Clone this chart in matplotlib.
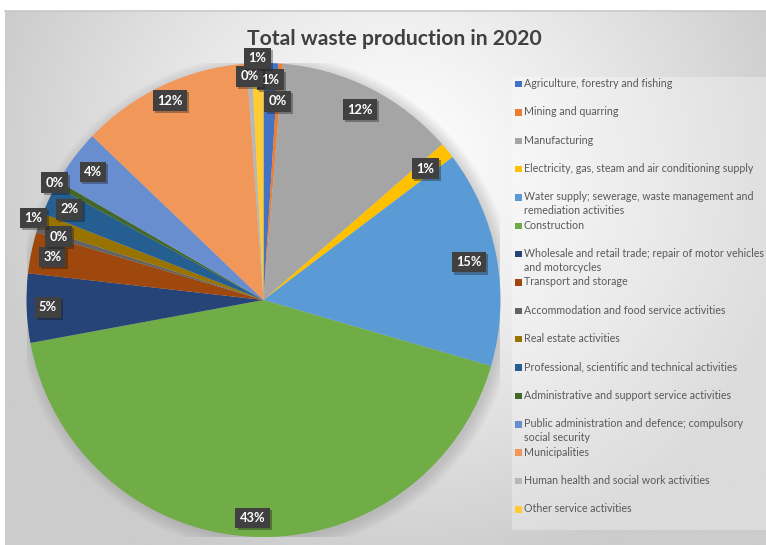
import numpy as np
import matplotlib
matplotlib.use("Agg")
import matplotlib.pyplot as plt
from matplotlib import patheffects
from matplotlib.patches import Rectangle, Circle

# ---------------- data ----------------
categories = [
    "Agriculture, forestry and fishing",
    "Mining and quarring",
    "Manufacturing",
    "Electricity, gas, steam and air conditioning supply",
    "Water supply; sewerage, waste management and\nremediation activities",
    "Construction",
    "Wholesale and retail trade; repair of motor vehicles\nand motorcycles",
    "Transport and storage",
    "Accommodation and food service activities",
    "Real estate activities",
    "Professional, scientific and technical activities",
    "Administrative and support service activities",
    "Public administration and defence; compulsory\nsocial security",
    "Municipalities",
    "Human health and social work activities",
    "Other service activities",
]
shares = [1.0, 0.3, 12.3, 1.1, 14.8, 42.6, 4.7, 2.8, 0.35, 1.0, 2.0, 0.4, 3.8, 11.7, 0.35, 0.8]
colors = ["#4472C4", "#ED7D31", "#A5A5A5", "#FFC000", "#5B9BD5", "#70AD47",
          "#264478", "#9E480E", "#636363", "#997300", "#255E91", "#43682B",
          "#698ED0", "#F1975A", "#B7B7B7", "#FFCD33"]
label_dist = [0.93, 0.84, 0.90, 0.88, 0.88, 0.92, 0.91, 0.91, 0.905, 1.03, 0.905, 1.01,
              0.90, 0.93, 0.945, 1.02]
title = "Total waste production in 2020"

W, H = 766, 545
fig = plt.figure(figsize=(W / 100, H / 100), dpi=100)
fig.patch.set_facecolor("white")

# background gradient panel
bg = fig.add_axes([5 / W, 0, 1 - 5 / W, 1 - 11 / H])
bg.set_axis_off()
yy, xx = np.mgrid[0:200, 0:200]
gx = (xx / 199.0) * (W - 5) + 5
gy = (yy / 199.0) * (H - 11) + 11
d = np.sqrt(((gx - 395) / 420.0) ** 2 + ((gy - 170) / 410.0) ** 2)
d = np.clip(d, 0, 1)
val = 1.0 - 0.2 * d ** 1.2
img = np.dstack([val, val, val])
bg.imshow(img, extent=[0, 1, 0, 1], origin="upper", aspect="auto", zorder=0)
bg.plot([0, 1], [1, 1], color="#c8c8c8", lw=1.2, transform=bg.transAxes, clip_on=False)
bg.set_xlim(0, 1)
bg.set_ylim(0, 1)

# pie axes
cx, cy, R = 263.5, 300.0, 237.0
ax = fig.add_axes([(cx - R) / W, 1 - (cy + R) / H, 2 * R / W, 2 * R / H])
ax.set_facecolor("none")

# soft shadow
for k in range(8):
    ax.add_patch(Circle((0.012, -0.012), 1.0 + 0.007 * k, color="#808080",
                        alpha=0.045, lw=0, zorder=0))

wedges, _ = ax.pie(shares, colors=colors, startangle=90, counterclock=False,
                   wedgeprops=dict(linewidth=0))
for w in wedges:
    w.set_zorder(2)
ax.set_xlim(-1, 1)
ax.set_ylim(-1, 1)
ax.set_aspect("equal")
ax.set_axis_off()

total = float(sum(shares))
for w, s, dist in zip(wedges, shares, label_dist):
    ang = np.deg2rad((w.theta1 + w.theta2) / 2.0)
    x, y = dist * np.cos(ang), dist * np.sin(ang)
    t = ax.text(x, y, f"{100 * s / total:.0f}%", ha="center", va="center",
                color="white", fontsize=9.3, family="Lato", fontweight="bold", zorder=5,
                bbox=dict(boxstyle="square,pad=0.33", fc="#404040", ec="none"))
    t.get_bbox_patch().set_path_effects(
        [patheffects.withSimplePatchShadow(offset=(1.5, -1.5), alpha=0.35)])

# title
fig.text(394 / W, 1 - 39 / H, title, ha="center", va="center", fontsize=15.2,
         family="Lato", fontweight="bold", color="#404040")

# legend panel
fig.patches.append(Rectangle((512 / W, 1 - 530 / H), (W - 512) / W, (530 - 77) / H,
                             transform=fig.transFigure, fc="white", alpha=0.3,
                             ec="none", zorder=1))
step = 28.35
for i, (lab, col) in enumerate(zip(categories, colors)):
    ycen = 84 + i * step
    fig.patches.append(Rectangle((515 / W, 1 - (ycen + 3.3) / H), 6.5 / W, 6.5 / H,
                                 transform=fig.transFigure, fc=col, ec="none", zorder=3))
    fig.text(524 / W, 1 - (ycen - 6.0) / H, lab, ha="left", va="top", fontsize=7.7,
             family="Lato", color="#595959", linespacing=1.3, zorder=4)

fig.savefig("out.png", dpi=100)
